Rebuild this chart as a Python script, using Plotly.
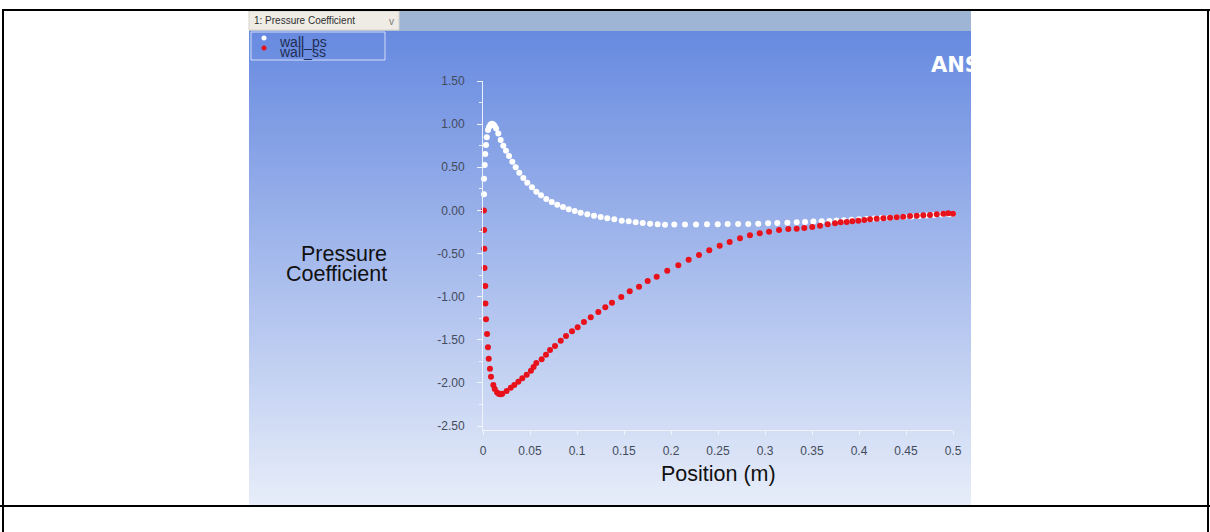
import plotly.graph_objects as go

W, H = 1210, 532

# Pressure-side wall: position along chord (m) and pressure coefficient
pos_ps = [0.0011, 0.0011, 0.0018, 0.0024, 0.0032, 0.0040, 0.0053, 0.0064, 0.0078, 0.0093,
          0.0108, 0.0123, 0.0140, 0.0163, 0.0188, 0.0216, 0.0245, 0.0277, 0.0312, 0.0348,
          0.0386, 0.0429, 0.0471, 0.0521, 0.0567, 0.0617, 0.0673, 0.0731, 0.0790, 0.0851,
          0.0912, 0.0976, 0.1039, 0.1110, 0.1181, 0.1252, 0.1322, 0.1397, 0.1476, 0.1550,
          0.1624, 0.1699, 0.1777, 0.1858, 0.1936, 0.2035, 0.2149, 0.2266, 0.2383, 0.2497,
          0.2603, 0.2714, 0.2822, 0.2928, 0.3033, 0.3131, 0.3238, 0.3337, 0.3426, 0.3515,
          0.3603, 0.3685, 0.3760, 0.3840, 0.3920, 0.4000, 0.4080, 0.4160, 0.4240, 0.4320,
          0.4400, 0.4480, 0.4560, 0.4640, 0.4720, 0.4800, 0.4880, 0.4960, 0.5000]
cp_ps = [0.187, 0.368, 0.526, 0.654, 0.758, 0.847, 0.932, 0.965, 0.992, 1.005,
         1.000, 0.982, 0.950, 0.890, 0.816, 0.750, 0.692, 0.631, 0.565, 0.500,
         0.437, 0.376, 0.321, 0.268, 0.217, 0.175, 0.132, 0.097, 0.066, 0.039,
         0.013, -0.007, -0.027, -0.045, -0.061, -0.077, -0.092, -0.103, -0.119, -0.126,
         -0.138, -0.146, -0.154, -0.161, -0.166, -0.163, -0.163, -0.163, -0.162, -0.160,
         -0.159, -0.158, -0.157, -0.155, -0.150, -0.147, -0.143, -0.138, -0.134, -0.130,
         -0.126, -0.122, -0.118, -0.113, -0.108, -0.104, -0.099, -0.094, -0.089, -0.085,
         -0.080, -0.075, -0.070, -0.065, -0.060, -0.054, -0.049, -0.044, -0.040]

# Suction-side wall
pos_ss = [0.0010, 0.0012, 0.0014, 0.0016, 0.0024, 0.0026, 0.0032, 0.0043, 0.0053, 0.0061,
          0.0074, 0.0085, 0.0110, 0.0125, 0.0150, 0.0170, 0.0190, 0.0205, 0.0252, 0.0295,
          0.0333, 0.0376, 0.0418, 0.0465, 0.0510, 0.0538, 0.0567, 0.0624, 0.0670, 0.0713,
          0.0766, 0.0827, 0.0883, 0.0947, 0.1007, 0.1074, 0.1146, 0.1227, 0.1301, 0.1372,
          0.1471, 0.1561, 0.1660, 0.1752, 0.1848, 0.1960, 0.2078, 0.2188, 0.2298, 0.2407,
          0.2518, 0.2624, 0.2734, 0.2840, 0.2944, 0.3043, 0.3149, 0.3248, 0.3337, 0.3418,
          0.3503, 0.3585, 0.3667, 0.3745, 0.3805, 0.3869, 0.3929, 0.3993, 0.4056, 0.4117,
          0.4188, 0.4259, 0.4330, 0.4401, 0.4471, 0.4543, 0.4614, 0.4684, 0.4755, 0.4827,
          0.4897, 0.4950, 0.5000]
cp_ss = [0.000, -0.227, -0.444, -0.668, -0.877, -1.080, -1.263, -1.433, -1.588, -1.719,
         -1.835, -1.930, -2.024, -2.070, -2.110, -2.130, -2.132, -2.125, -2.094, -2.055,
         -2.024, -1.986, -1.947, -1.905, -1.858, -1.815, -1.769, -1.726, -1.673, -1.619,
         -1.572, -1.511, -1.456, -1.402, -1.355, -1.294, -1.239, -1.178, -1.123, -1.070,
         -1.004, -0.938, -0.885, -0.819, -0.769, -0.699, -0.637, -0.572, -0.517, -0.463,
         -0.409, -0.366, -0.323, -0.289, -0.266, -0.247, -0.227, -0.216, -0.212, -0.204,
         -0.192, -0.177, -0.161, -0.150, -0.138, -0.134, -0.126, -0.119, -0.111, -0.103,
         -0.096, -0.092, -0.085, -0.080, -0.073, -0.065, -0.061, -0.057, -0.053, -0.045,
         -0.038, -0.034, -0.038]

series_names = ["wall_ps", "wall_ss"]
y_ticks = [-2.5, -2.0, -1.5, -1.0, -0.5, 0.0, 0.5, 1.0, 1.5]
x_ticks = [0, 0.05, 0.1, 0.15, 0.2, 0.25, 0.3, 0.35, 0.4, 0.45, 0.5]


def fx(px):
    return px / W


def fy(py):
    return 1 - py / H


FONT = "Liberation Sans, Arial, sans-serif"
WHITE_DOT = "#ffffff"
RED_DOT = "#e8121c"
AXIS_COL = "rgba(240,244,252,0.95)"

fig = go.Figure()

fig.add_trace(go.Scatter(
    x=pos_ps, y=cp_ps, mode="markers", name=series_names[0],
    marker=dict(size=6, color=WHITE_DOT, line=dict(width=0)),
    cliponaxis=False, showlegend=False, xaxis="x", yaxis="y"))
fig.add_trace(go.Scatter(
    x=pos_ss, y=cp_ss, mode="markers", name=series_names[1],
    marker=dict(size=6, color=RED_DOT, line=dict(width=0)),
    cliponaxis=False, showlegend=False, xaxis="x", yaxis="y"))

# window overlay in pixel units: legend symbols and the clipped logo text
fig.add_trace(go.Scatter(
    x=[264, 264], y=[38, 48], mode="markers",
    marker=dict(size=5, color=[WHITE_DOT, RED_DOT], line=dict(width=0)),
    cliponaxis=False, showlegend=False, hoverinfo="skip", xaxis="x2", yaxis="y2"))
fig.add_trace(go.Scatter(
    x=[931], y=[67], mode="text", text=["ANSYS"], textposition="middle right",
    textfont=dict(family="DejaVu Sans, sans-serif", size=21, color="#ffffff", weight="bold"),
    cliponaxis=True, showlegend=False, hoverinfo="skip", xaxis="x2", yaxis="y2"))

shapes = []

# background gradient of the viewer window
top_rgb = (103, 138, 224)
bot_rgb = (231, 237, 249)
y_start, y_end, step = 31, 505, 3
y = y_start
while y < y_end:
    t = (y + step / 2 - y_start) / (y_end - y_start)
    c = tuple(round(a + (b - a) * t) for a, b in zip(top_rgb, bot_rgb))
    shapes.append(dict(type="rect", xref="paper", yref="paper", layer="below",
                       x0=fx(249), x1=fx(971), y0=fy(min(y + step + 0.5, y_end)), y1=fy(y),
                       line=dict(width=0), fillcolor="rgb(%d,%d,%d)" % c))
    y += step

# toolbar strip and dropdown
shapes.append(dict(type="rect", xref="paper", yref="paper", layer="below",
                   x0=fx(249), x1=fx(971), y0=fy(31), y1=fy(11),
                   line=dict(width=0), fillcolor="#9fb5d6"))
shapes.append(dict(type="rect", xref="paper", yref="paper", layer="below",
                   x0=fx(249), x1=fx(399), y0=fy(30), y1=fy(11),
                   line=dict(width=1, color="#d8d4cc"), fillcolor="#efece6"))

# legend frame
shapes.append(dict(type="rect", xref="paper", yref="paper", layer="above",
                   x0=fx(251), x1=fx(385), y0=fy(60), y1=fy(32),
                   line=dict(width=1, color="rgba(215,225,248,0.95)"), fillcolor="rgba(0,0,0,0)"))

# document table frame
frame = dict(color="#000000", width=2)
shapes += [
    dict(type="line", xref="paper", yref="paper", x0=fx(2), x1=fx(1210), y0=fy(10), y1=fy(10), line=frame),
    dict(type="line", xref="paper", yref="paper", x0=fx(0), x1=fx(1210), y0=fy(506), y1=fy(506), line=frame),
    dict(type="line", xref="paper", yref="paper", x0=fx(3), x1=fx(3), y0=fy(9), y1=fy(532), line=frame),
    dict(type="line", xref="paper", yref="paper", x0=fx(1208), x1=fx(1208), y0=fy(9), y1=fy(532), line=frame),
]

annotations = [
    dict(text="1: Pressure Coefficient", x=fx(252), y=fy(20.5), xanchor="left", yanchor="middle",
         font=dict(family=FONT, size=10, color="#2e2e2e")),
    dict(text="v", x=fx(391), y=fy(21), xanchor="center", yanchor="middle",
         font=dict(family=FONT, size=10, color="#7a7a7a")),
    dict(text=series_names[0], x=fx(277), y=fy(42), xanchor="left", yanchor="middle",
         font=dict(family=FONT, size=14, color="#1f2d55")),
    dict(text=series_names[1], x=fx(277), y=fy(52), xanchor="left", yanchor="middle",
         font=dict(family=FONT, size=14, color="#1f2d55")),
    dict(text="Pressure", x=fx(389), y=fy(254), xanchor="right", yanchor="middle",
         font=dict(family=FONT, size=21.5, color="#111111")),
    dict(text="Coefficient", x=fx(389), y=fy(274), xanchor="right", yanchor="middle",
         font=dict(family=FONT, size=21.5, color="#111111")),
    dict(text="Position (m)", x=fx(718), y=fy(474), xanchor="center", yanchor="middle",
         font=dict(family=FONT, size=21.5, color="#111111")),
]
for a in annotations:
    a.update(xref="paper", yref="paper", showarrow=False)

fig.update_layout(
    width=W, height=H, autosize=False,
    margin=dict(l=0, r=0, t=0, b=0, pad=0, autoexpand=False),
    paper_bgcolor="#ffffff", plot_bgcolor="rgba(0,0,0,0)",
    showlegend=False,
    shapes=shapes, annotations=annotations,
    xaxis=dict(
        domain=[fx(483), fx(953)], range=[0, 0.5],
        tickmode="array", tickvals=x_ticks, ticktext=[f"{v:g}" for v in x_ticks],
        showline=True, linecolor=AXIS_COL, linewidth=1,
        ticks="outside", ticklen=4, tickcolor=AXIS_COL, tickwidth=1,
        ticklabelstandoff=6, automargin=False,
        tickfont=dict(family=FONT, size=12, color="#434b5c"),
        showgrid=False, zeroline=False, anchor="y",
    ),
    yaxis=dict(
        domain=[fy(430), fy(81)], range=[-2.546, 1.5],
        tickmode="array", tickvals=y_ticks, ticktext=[f"{v:.2f}" for v in y_ticks],
        showline=True, linecolor=AXIS_COL, linewidth=1,
        ticks="outside", ticklen=5, tickcolor=AXIS_COL, tickwidth=1,
        minor=dict(dtick=0.25, tick0=0, ticks="outside", ticklen=3, tickcolor=AXIS_COL),
        ticklabelstandoff=10, automargin=False,
        tickfont=dict(family=FONT, size=12, color="#434b5c"),
        showgrid=False, zeroline=False, anchor="x",
    ),
    xaxis2=dict(domain=[fx(249), fx(971)], range=[249, 971], visible=False,
                fixedrange=True, anchor="y2", automargin=False),
    yaxis2=dict(domain=[fy(505), fy(31)], range=[505, 31], visible=False,
                fixedrange=True, anchor="x2", automargin=False),
)

fig.write_html("out.html", config={"displayModeBar": False})
